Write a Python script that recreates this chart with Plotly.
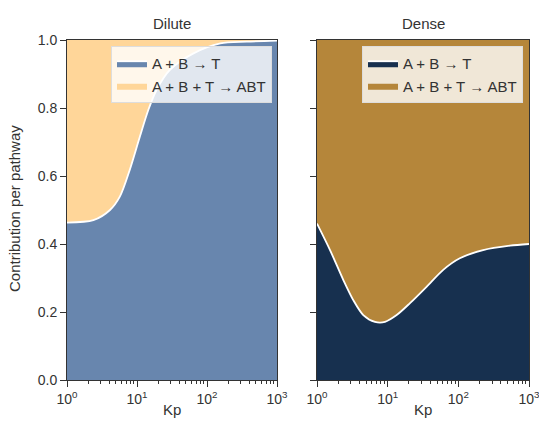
import plotly.graph_objects as go

# Dilute panel data
dilute_kp = [1, 2.38, 4.11, 5.71, 7.94, 11.0, 14.5, 19.0, 29.5, 63.1, 155, 372, 1000]
dilute_bimol = [0.463, 0.47, 0.50, 0.54, 0.62, 0.716, 0.794, 0.853, 0.912, 0.96, 0.99, 0.995, 0.998]

# Dense panel data
dense_kp = [1, 1.53, 2.36, 3.26, 4.52, 6.61, 9.16, 13.4, 20.7, 35.5, 61.1, 105, 224, 537, 1000]
dense_bimol = [0.46, 0.382, 0.294, 0.235, 0.191, 0.171, 0.171, 0.191, 0.226, 0.274, 0.324, 0.358, 0.382, 0.395, 0.40]

labels = ["A + B \u2192 T", "A + B + T \u2192 ABT"]
tickvals = [1, 10, 100, 1000]
ticktext = ["10<sup>0</sup>", "10<sup>1</sup>", "10<sup>2</sup>", "10<sup>3</sup>"]
minor_vals = [2, 3, 4, 5, 6, 7, 8, 9, 20, 30, 40, 50, 60, 70, 80, 90, 200, 300, 400, 500, 600, 700, 800, 900]
ytickvals = [0, 0.2, 0.4, 0.6, 0.8, 1.0]
yticktext = ["0.0", "0.2", "0.4", "0.6", "0.8", "1.0"]

FONT = "Liberation Sans, Arial, sans-serif"
TXT = "#333333"

fig = go.Figure()

def add_panel(kp, bim, xa, ya, c1, c2, legend, group):
    fig.add_trace(go.Scatter(x=kp, y=bim, name=labels[0], stackgroup=group,
                             mode="lines", line=dict(color="white", width=1.8, shape="spline", smoothing=0.8),
                             fillcolor=c1, xaxis=xa, yaxis=ya, legend=legend))
    fig.add_trace(go.Scatter(x=kp, y=[1 - v for v in bim], name=labels[1], stackgroup=group,
                             mode="lines", line=dict(color=c2, width=0, shape="spline", smoothing=0.8),
                             fillcolor=c2, xaxis=xa, yaxis=ya, legend=legend))

add_panel(dilute_kp, dilute_bimol, "x", "y", "#6886AE", "#FFD699", "legend", "a")
add_panel(dense_kp, dense_bimol, "x2", "y2", "#17304F", "#B5863A", "legend2", "b")

# invisible traces carrying the minor-tick axes
for xa, ya in (("x3", "y"), ("x4", "y2")):
    fig.add_trace(go.Scatter(x=[1, 1000], y=[0, 0], mode="lines", line=dict(width=0),
                             hoverinfo="skip", showlegend=False, xaxis=xa, yaxis=ya))

y0, y1 = (438 - 380) / 438, (438 - 40) / 438
dom1 = [67 / 539, 277 / 539]
dom2 = [317 / 539, 529 / 539]

axcommon = dict(showline=True, linecolor="#333333", linewidth=1, mirror=True,
                ticks="outside", ticklen=6, tickcolor="#333333", showgrid=False, zeroline=False,
                automargin=False, tickfont=dict(family=FONT, size=14, color=TXT))
xcommon = dict(type="log", range=[0, 3], tickmode="array", tickvals=tickvals, ticktext=ticktext,
               ticklabeloverflow="allow", **axcommon)
minorax = dict(type="log", range=[0, 3], tickmode="array", tickvals=minor_vals, ticks="outside",
               ticklen=3, tickcolor="#333333", showticklabels=False, showgrid=False, zeroline=False,
               showline=False, automargin=False, side="bottom")

legcommon = dict(xanchor="right", yanchor="top", bgcolor="rgba(255,255,255,0.8)",
                 bordercolor="#dddddd", borderwidth=1, traceorder="normal",
                 font=dict(family=FONT, size=15, color=TXT))

fig.update_layout(
    width=539, height=438, margin=dict(l=0, r=0, t=0, b=0, autoexpand=False),
    paper_bgcolor="white", plot_bgcolor="white",
    showlegend=True,
    xaxis=dict(domain=dom1, anchor="y", **xcommon),
    xaxis2=dict(domain=dom2, anchor="y2", **xcommon),
    xaxis3=dict(domain=dom1, anchor="y", overlaying="x", **minorax),
    xaxis4=dict(domain=dom2, anchor="y2", overlaying="x2", **minorax),
    yaxis=dict(domain=[y0, y1], anchor="x", range=[0, 1], tickvals=ytickvals,
               ticktext=yticktext, **axcommon),
    yaxis2=dict(domain=[y0, y1], anchor="x2", range=[0, 1], tickvals=ytickvals,
                showticklabels=False, **axcommon),
    legend=dict(x=272 / 539, y=(438 - 46) / 438, **legcommon),
    legend2=dict(x=523 / 539, y=(438 - 46) / 438, **legcommon),
    annotations=[
        dict(text="Dilute", x=172 / 539, y=(438 - 23) / 438, xref="paper", yref="paper",
             xanchor="center", yanchor="middle",
             showarrow=False, font=dict(family=FONT, size=15, color=TXT)),
        dict(text="Dense", x=423 / 539, y=(438 - 23) / 438, xref="paper", yref="paper",
             xanchor="center", yanchor="middle",
             showarrow=False, font=dict(family=FONT, size=15, color=TXT)),
        dict(text="Kp", x=172 / 539, y=(438 - 409) / 438, xref="paper", yref="paper",
             xanchor="center", yanchor="middle",
             showarrow=False, font=dict(family=FONT, size=15, color=TXT)),
        dict(text="Kp", x=423 / 539, y=(438 - 409) / 438, xref="paper", yref="paper",
             xanchor="center", yanchor="middle",
             showarrow=False, font=dict(family=FONT, size=15, color=TXT)),
        dict(text="Contribution per pathway", x=15 / 539, y=(438 - 209) / 438, xref="paper", yref="paper",
             xanchor="center", yanchor="middle",
             textangle=-90, showarrow=False, font=dict(family=FONT, size=15, color=TXT)),
    ],
)

fig.write_html("out.html")
